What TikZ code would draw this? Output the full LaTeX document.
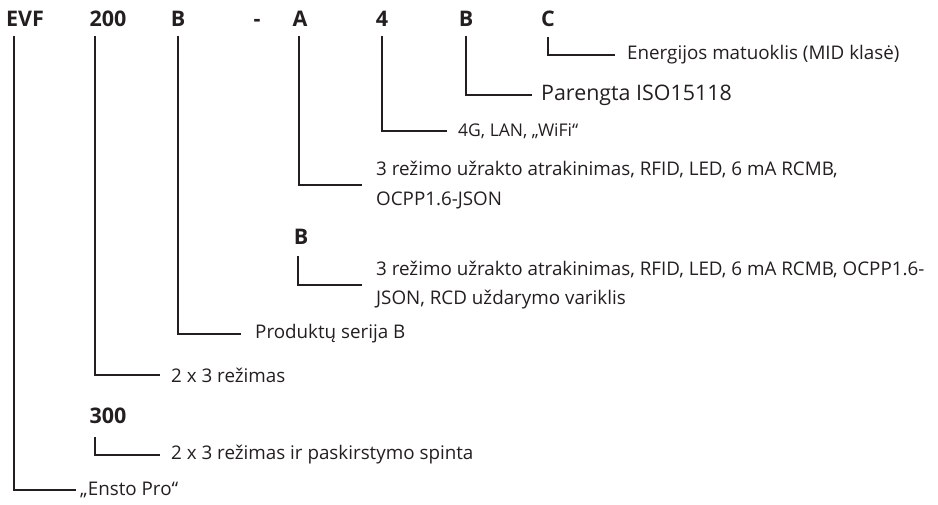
\documentclass[tikz,border=0pt]{standalone}
\usepackage{fontspec}
\setmainfont{Open Sans}
\definecolor{ink}{HTML}{231F20}
\begin{document}
\begin{tikzpicture}[x=1pt,y=-1pt,
  code/.style={font=\fontsize{21.5}{24}\selectfont\bfseries, text=ink, inner sep=0pt, anchor=base},
  desc/.style={font=\fontsize{18.8}{29.5}\selectfont, text=ink, inner sep=0pt, anchor=west, align=left},
  big/.style={font=\fontsize{21.4}{24}\selectfont, text=ink, inner sep=0pt, anchor=west},
  small/.style={font=\fontsize{17.5}{20}\selectfont, text=ink, inner sep=0pt, anchor=west},
  lead/.style={draw=ink, line width=1.2pt}]
\useasboundingbox (0,0) rectangle (938,504);
% top row code
\node[code] (evf) at (25,26) {EVF};
\node[code] (c200) at (108,26) {200};
\node[code] (cb) at (178,26) {B};
\node[code] (dash) at (257,26) {-};
\node[code] (ca) at (300,26) {A};
\node[code] (c4) at (382,26) {4};
\node[code] (cb2) at (466,26) {B};
\node[code] (cc) at (548,26) {C};
% alternative codes
\node[code] (altb) at (301,244) {B};
\node[code] (c300) at (108,423) {300};
% descriptions
\node[desc] (tc) at (627,55) {Energijos matuoklis (MID klasė)};
\node[big] (tb2) at (541,95) {Parengta ISO15118};
\node[small] (t4) at (458,131) {4G, LAN, „WiFi“};
\node[desc] (ta) at (376,185) {3 režimo užrakto atrakinimas, RFID, LED, 6 mA RCMB,\\OCPP1.6-JSON};
\node[desc] (taltb) at (376,285) {3 režimo užrakto atrakinimas, RFID, LED, 6 mA RCMB, OCPP1.6-\\JSON, RCD uždarymo variklis};
\node[desc] (tb) at (255,334) {Produktų serija B};
\node[desc] (t200) at (171,375) {2 x 3 režimas};
\node[desc] (t300) at (171,455) {2 x 3 režimas ir paskirstymo spinta};
\node[desc] (tevf) at (80,490) {„Ensto Pro“};
% leader line tops
\coordinate (pc) at (548,37);
\coordinate (pb2) at (466,36);
\coordinate (p4) at (382,36);
\coordinate (pa) at (299,36);
\coordinate (paltb) at (298,256);
\coordinate (pb) at (178,36);
\coordinate (p200) at (95,36);
\coordinate (p300) at (95,437);
\coordinate (pevf) at (14,36);
% leaders
\draw[lead, shorten >=12pt] (pc) |- (tc.west);
\draw[lead, shorten >=9pt] (pb2) |- (tb2.west);
\draw[lead, shorten >=11pt] (p4) |- (t4.west);
\draw[lead, shorten >=14pt] (pa) |- (ta.west);
\draw[lead, shorten >=14pt] (paltb) |- (taltb.west);
\draw[lead, shorten >=14pt] (pb) |- (tb.west);
\draw[lead, shorten >=11pt] (p200) |- (t200.west);
\draw[lead, shorten >=11pt] (p300) |- (t300.west);
\draw[lead, shorten >=4pt] (pevf) |- (tevf.west);
\end{tikzpicture}
\end{document}
